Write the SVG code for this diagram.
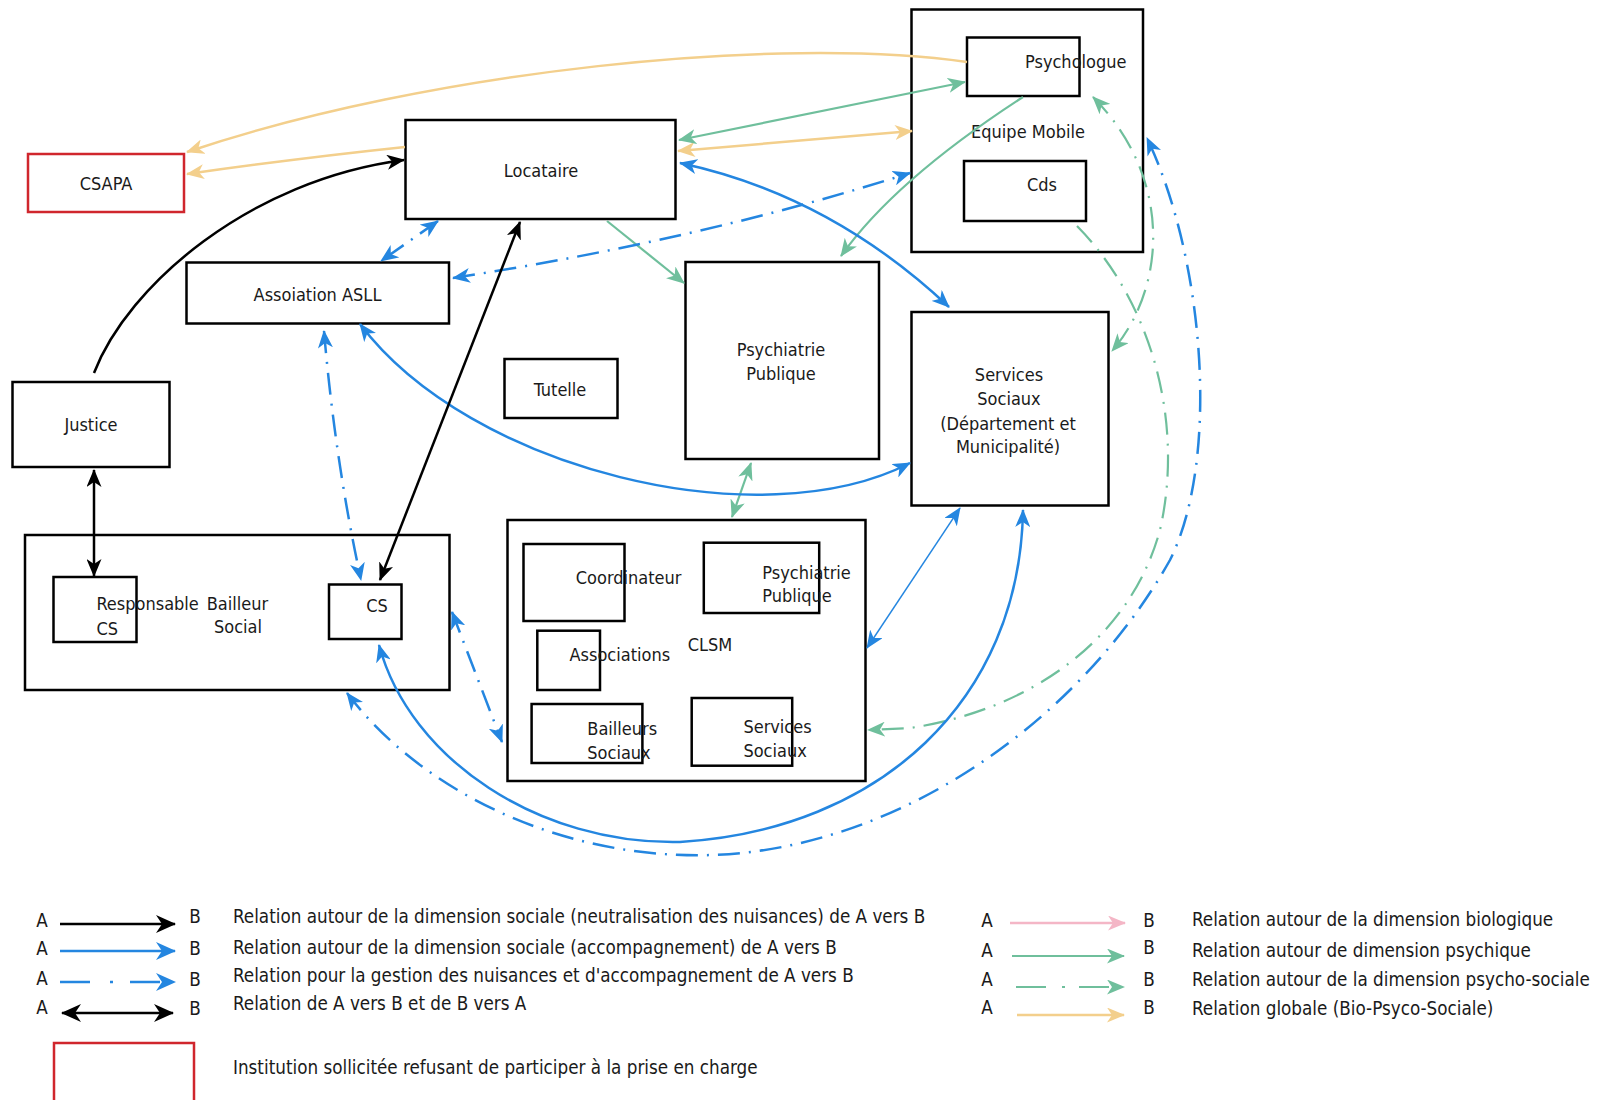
<svg xmlns="http://www.w3.org/2000/svg" width="1598" height="1100" viewBox="0 0 1598 1100">
<style>
  text { font-family: "DejaVu Sans Condensed", "DejaVu Sans", Verdana, sans-serif; font-stretch: condensed; font-size: 18px; fill: #1a1a1a; }
  .lg { font-size: 18.7px; }
  .c { text-anchor: middle; }
  .box { fill: #ffffff; stroke: #000000; stroke-width: 2.5; }
  .inner { fill: none; stroke: #000000; stroke-width: 2.5; }
  .red { fill: #ffffff; stroke: #d0262d; stroke-width: 2.5; }
  .k { fill: none; stroke: #000000; stroke-width: 2.5; }
  .b { fill: none; stroke: #2486e0; stroke-width: 2.5; }
  .bt { fill: none; stroke: #2486e0; stroke-width: 1.4; }
  .bd { fill: none; stroke: #2486e0; stroke-width: 2.5; stroke-dasharray: 22 9 2 9; }
  .g { fill: none; stroke: #6fbf9c; stroke-width: 2.2; }
  .gd { fill: none; stroke: #6fbf9c; stroke-width: 2.2; stroke-dasharray: 22 9 2 9; }
  .y { fill: none; stroke: #f3cf8c; stroke-width: 2.5; }
  .p { fill: none; stroke: #f4b6c6; stroke-width: 2.5; }
  .lbd { fill: none; stroke: #2486e0; stroke-width: 2.5; stroke-dasharray: 30 20 3 17; }
  .lgd { fill: none; stroke: #6fbf9c; stroke-width: 2.2; stroke-dasharray: 30 16 3 14; }
</style>
<defs>
  <marker id="mk" viewBox="0 0 18 15" refX="17" refY="7.5" markerWidth="18" markerHeight="15" markerUnits="userSpaceOnUse" orient="auto-start-reverse"><path d="M0,0 L18,7.5 L0,15 L5,7.5 z" fill="#000000"/></marker>
  <marker id="mb" viewBox="0 0 18 15" refX="17" refY="7.5" markerWidth="18" markerHeight="15" markerUnits="userSpaceOnUse" orient="auto-start-reverse"><path d="M0,0 L18,7.5 L0,15 L5,7.5 z" fill="#2486e0"/></marker>
  <marker id="mg" viewBox="0 0 18 15" refX="17" refY="7.5" markerWidth="18" markerHeight="15" markerUnits="userSpaceOnUse" orient="auto-start-reverse"><path d="M0,0 L18,7.5 L0,15 L5,7.5 z" fill="#6fbf9c"/></marker>
  <marker id="my" viewBox="0 0 18 15" refX="17" refY="7.5" markerWidth="18" markerHeight="15" markerUnits="userSpaceOnUse" orient="auto-start-reverse"><path d="M0,0 L18,7.5 L0,15 L5,7.5 z" fill="#f3cf8c"/></marker>
  <marker id="mp" viewBox="0 0 18 15" refX="17" refY="7.5" markerWidth="18" markerHeight="15" markerUnits="userSpaceOnUse" orient="auto-start-reverse"><path d="M0,0 L18,7.5 L0,15 L5,7.5 z" fill="#f4b6c6"/></marker>
  <marker id="lk" viewBox="0 0 20 18" refX="19" refY="9" markerWidth="20" markerHeight="18" markerUnits="userSpaceOnUse" orient="auto-start-reverse"><path d="M0,0 L20,9 L0,18 L6,9 z" fill="#000000"/></marker>
  <marker id="lb" viewBox="0 0 20 18" refX="19" refY="9" markerWidth="20" markerHeight="18" markerUnits="userSpaceOnUse" orient="auto-start-reverse"><path d="M0,0 L20,9 L0,18 L6,9 z" fill="#2486e0"/></marker>
</defs>
<rect width="1598" height="1100" fill="#ffffff"/>

<g id="nodes">
  <g id="csapa"><rect class="red" x="28" y="154" width="156" height="58"/><text class="c" x="106" y="190">CSAPA</text></g>
  <g id="locataire"><rect class="box" x="405.5" y="120" width="270" height="99"/><text class="c" x="541" y="177">Locataire</text></g>
  <g id="asll"><rect class="box" x="186.5" y="262.5" width="262.5" height="61"/><text class="c" x="317.5" y="301">Assoiation ASLL</text></g>
  <g id="justice"><rect class="box" x="12.5" y="382" width="157" height="85"/><text class="c" x="91" y="431">Justice</text></g>
  <g id="tutelle"><rect class="box" x="504.5" y="359" width="113" height="59"/><text class="c" x="560" y="396">Tutelle</text></g>
  <g id="psychiatrie"><rect class="box" x="685.5" y="262" width="193.5" height="197"/><text class="c" x="781" y="356">Psychiatrie</text><text class="c" x="781" y="380">Publique</text></g>
  <g id="services-sociaux"><rect class="box" x="911.5" y="312" width="197" height="193.5"/><text class="c" x="1009" y="381">Services</text><text class="c" x="1009" y="405">Sociaux</text><text class="c" x="1008" y="430">(Département et</text><text class="c" x="1008" y="453">Municipalité)</text></g>
  <g id="equipe-mobile"><rect class="box" x="911.5" y="9.5" width="231.5" height="242.5"/><text class="c" x="1028" y="138">Equipe Mobile</text>
    <g id="psychologue"><rect class="box" x="967" y="37.5" width="112.5" height="58.5"/><text x="1025" y="68">Psychologue</text></g>
    <g id="cds"><rect class="box" x="964" y="161" width="122" height="60"/><text class="c" x="1042" y="190.5">Cds</text></g>
  </g>
  <g id="bailleur-social"><rect class="box" x="25" y="535" width="424.5" height="155"/><text x="206.7" y="610">Bailleur</text><text x="214" y="633">Social</text>
    <g id="responsable-cs"><rect class="inner" x="53.5" y="577" width="83" height="65"/><text x="96.4" y="610">Responsable</text><text x="96.4" y="635">CS</text></g>
    <g id="cs"><rect class="box" x="329" y="584.5" width="72.5" height="54.5"/><text class="c" x="377" y="612">CS</text></g>
  </g>
  <g id="clsm"><rect class="box" x="507.5" y="520" width="358" height="261"/><text x="687.7" y="651">CLSM</text>
    <g id="coordinateur"><rect class="inner" x="523.5" y="544" width="101" height="77"/><text x="575.8" y="584">Coordinateur</text></g>
    <g id="psychiatrie-clsm"><rect class="inner" x="703.8" y="542.7" width="115.4" height="70.3"/><text x="762.3" y="579">Psychiatrie</text><text x="762.3" y="602">Publique</text></g>
    <g id="associations"><rect class="inner" x="537.3" y="630.7" width="62.7" height="59.3"/><text x="569.5" y="661">Associations</text></g>
    <g id="bailleurs-sociaux"><rect class="inner" x="531.6" y="704" width="110.8" height="59"/><text x="587.3" y="735">Bailleurs</text><text x="587.3" y="759">Sociaux</text></g>
    <g id="services-clsm"><rect class="inner" x="691.7" y="698" width="100.5" height="67.7"/><text x="743.4" y="733">Services</text><text x="743.4" y="757">Sociaux</text></g>
  </g>
</g>

<g id="connectors">
  <path class="y" d="M967,62 C780,35 430,70 187,152" marker-end="url(#my)"/>
  <path class="y" d="M405,147 Q300,158 187,174" marker-end="url(#my)"/>
  <path class="y" d="M678,151 L912,131" marker-start="url(#my)" marker-end="url(#my)"/>
  <path class="g" d="M679,140 L965,82" marker-start="url(#mg)" marker-end="url(#mg)"/>
  <path class="g" d="M1023,97 Q895,180 841,256" marker-end="url(#mg)"/>
  <path class="g" d="M607,221 L684,283" marker-end="url(#mg)"/>
  <path class="g" d="M732,517 L751,463" marker-start="url(#mg)" marker-end="url(#mg)"/>
  <path class="gd" d="M1093,97 C1175,180 1165,290 1112,351" marker-start="url(#mg)" marker-end="url(#mg)"/>
  <path class="gd" d="M1077,226 C1150,300 1185,420 1160,530 C1130,640 1030,710 910,728 L868,730" marker-end="url(#mg)"/>
  <path class="bd" d="M453,278 Q700,240 910,173" marker-start="url(#mb)" marker-end="url(#mb)"/>
  <path class="bd" d="M438,221 L381,261" marker-start="url(#mb)" marker-end="url(#mb)"/>
  <path class="bd" d="M324,331 Q335,460 361,580" marker-start="url(#mb)" marker-end="url(#mb)"/>
  <path class="bd" d="M452,612 L502,742" marker-start="url(#mb)" marker-end="url(#mb)"/>
  <path class="bd" d="M347,693 C420,790 560,860 713,855 C900,848 1080,720 1170,560 C1220,460 1205,260 1147,138" marker-start="url(#mb)" marker-end="url(#mb)"/>
  <path class="b" d="M680,163 Q830,195 949,307" marker-start="url(#mb)" marker-end="url(#mb)"/>
  <path class="b" d="M360,324 C470,470 760,540 910,463" marker-start="url(#mb)" marker-end="url(#mb)"/>
  <path class="b" d="M379,645 C410,760 540,845 680,842 C880,830 1020,700 1023,510" marker-start="url(#mb)" marker-end="url(#mb)"/>
  <path class="bt" d="M960,508 L867,648" marker-start="url(#mb)" marker-end="url(#mb)"/>
  <path class="k" d="M94,373 C128,285 250,180 404,160" marker-end="url(#mk)"/>
  <path class="k" d="M94,470 L94,576" marker-start="url(#mk)" marker-end="url(#mk)"/>
  <path class="k" d="M520,222 L380,580" marker-start="url(#mk)" marker-end="url(#mk)"/>
</g>

<g id="legend">
  <text class="c lg" x="42" y="927">A</text><text class="c lg" x="195" y="923">B</text>
  <path class="k" d="M60,924 L175,924" marker-end="url(#lk)"/>
  <text class="lg" x="233" y="923">Relation autour de la dimension sociale (neutralisation des nuisances) de A vers B</text>
  <text class="c lg" x="42" y="955">A</text><text class="c lg" x="195" y="955">B</text>
  <path class="b" d="M60,951 L175,951" marker-end="url(#lb)"/>
  <text class="lg" x="233" y="954">Relation autour de la dimension sociale (accompagnement) de A vers B</text>
  <text class="c lg" x="42" y="985">A</text><text class="c lg" x="195" y="986">B</text>
  <path class="lbd" d="M60,982 L175,982" marker-end="url(#lb)"/>
  <text class="lg" x="233" y="982">Relation pour la gestion des nuisances et d'accompagnement de A vers B</text>
  <text class="c lg" x="42" y="1014">A</text><text class="c lg" x="195" y="1015">B</text>
  <path class="k" d="M62,1013 L173,1013" marker-start="url(#lk)" marker-end="url(#lk)"/>
  <text class="lg" x="233" y="1010">Relation de A vers B et de B vers A</text>
  <rect class="red" x="54" y="1043" width="140" height="60"/>
  <text class="lg" x="233" y="1074">Institution sollicitée refusant de participer à la prise en charge</text>

  <text class="c lg" x="987" y="927">A</text><text class="c lg" x="1149" y="927">B</text>
  <path class="p" d="M1010,923 L1125,923" marker-end="url(#mp)"/>
  <text class="lg" x="1192" y="926">Relation autour de la dimension biologique</text>
  <text class="c lg" x="987" y="957">A</text><text class="c lg" x="1149" y="954">B</text>
  <path class="g" d="M1012,956 L1124,956" marker-end="url(#mg)"/>
  <text class="lg" x="1192" y="957">Relation autour de dimension psychique</text>
  <text class="c lg" x="987" y="986">A</text><text class="c lg" x="1149" y="986">B</text>
  <path class="lgd" d="M1016,987 L1124,987" marker-end="url(#mg)"/>
  <text class="lg" x="1192" y="986">Relation autour de la dimension psycho-sociale</text>
  <text class="c lg" x="987" y="1014">A</text><text class="c lg" x="1149" y="1014">B</text>
  <path class="y" d="M1017,1015 L1124,1015" marker-end="url(#my)"/>
  <text class="lg" x="1192" y="1015">Relation globale (Bio-Psyco-Sociale)</text>
</g>
</svg>
